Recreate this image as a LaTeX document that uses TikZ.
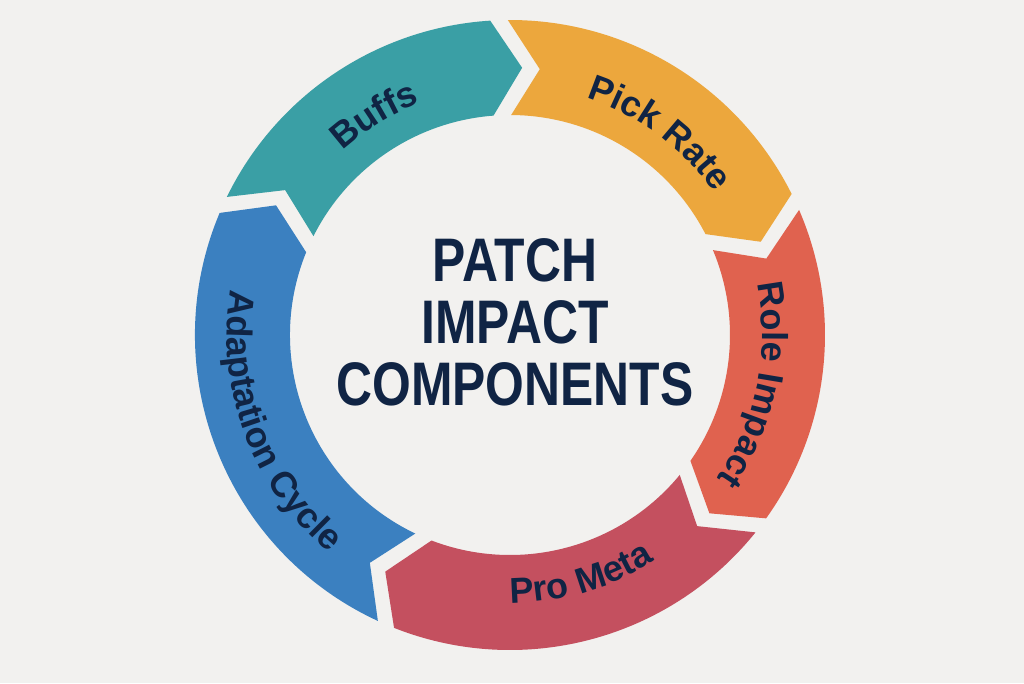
\documentclass[tikz,border=0pt]{standalone}
\usepackage{fontspec}
\setmainfont{Liberation Sans}
\newfontfamily\titlefont[FakeStretch=0.81]{Liberation Sans}
\usepackage{tikz}
\usetikzlibrary{decorations.text}
\definecolor{bgcol}{HTML}{F2F1EF}
\definecolor{segteal}{HTML}{3A9FA5}
\definecolor{segorange}{HTML}{ECA73D}
\definecolor{segred}{HTML}{E0624F}
\definecolor{segpink}{HTML}{C4505F}
\definecolor{segblue}{HTML}{3B80C0}
\definecolor{navy}{HTML}{102444}
\newcommand{\labelfont}{\bfseries\fontsize{36}{42}\selectfont}

\begin{document}
\begin{tikzpicture}[x=1pt,y=1pt,
		lbl/.style={decorate,decoration={text along path,text align=center,text color=navy}}]
			\fill[bgcol] (-510,-348) rectangle (514,335);
			\useasboundingbox (-510,-348) rectangle (514,335);
			% ring pieces, clockwise: colour / start / end
			\foreach \col/\x/\y in {segteal/155.6/92,segorange/92/25,segred/25/-37.2,segpink/-37.2/-113.2,segblue/-113.2/-204.4}{
				\fill[\col] (\x-1.6:315) arc[start angle=\x-1.6,end angle=\y+1.6,radius=315]
					-- (\y-4.6:267.5) -- (\y+2.3:220)
					arc[start angle=\y+2.3,end angle=\x-2.3,radius=220]
					-- (\x-8.4:267.5) -- cycle;
			}
			
			% labels along the ring
			\path[lbl,decoration={text={|\labelfont|Buffs}}] (171.7:249) arc[start angle=171.7,end angle=71.7,radius=249];
			\path[lbl,decoration={text={|\labelfont|Pick Rate}}] (103.5:249) arc[start angle=103.5,end angle=3.5,radius=249];
			\path[lbl,decoration={text={|\labelfont|Role Impact}}] (38.5:252) arc[start angle=38.5,end angle=-61.5,radius=252];
			\path[lbl,decoration={text={|\labelfont|Pro Meta}}] (-123.6:268) arc[start angle=-123.6,end angle=-23.6,radius=268];
			\path[lbl,decoration={text={|\labelfont|Adaptation Cycle}}] (150.5:283) arc[start angle=150.5,end angle=250.5,radius=283];
			
			\node[font=\titlefont\bfseries\fontsize{61.5}{62}\selectfont,text=navy,align=center,inner sep=0pt] (title) at (5,13) {PATCH\\IMPACT\\COMPONENTS};
		\end{tikzpicture}
\end{document}
